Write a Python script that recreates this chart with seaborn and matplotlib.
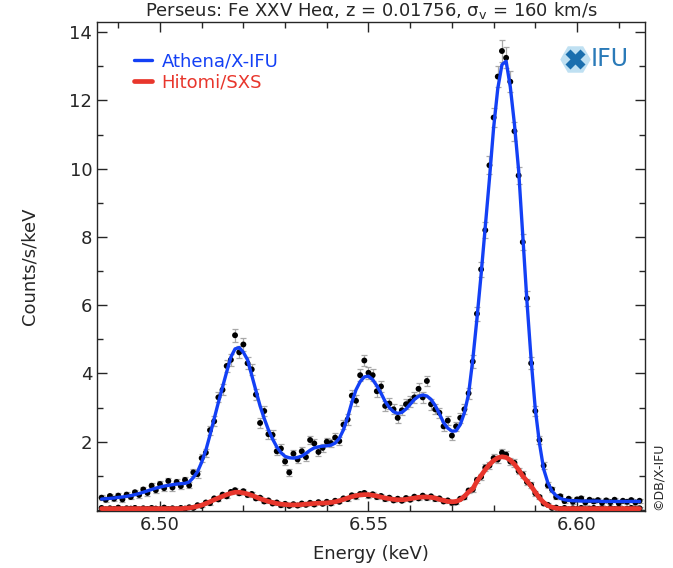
import numpy as np
import pandas as pd
import seaborn as sns
import matplotlib.pyplot as plt
from matplotlib.ticker import MultipleLocator

# 1 eV spectral bins (keV)
energy = [
    6.486, 6.487, 6.488, 6.489, 6.490, 6.491, 6.492, 6.493, 6.494, 6.495,
    6.496, 6.497, 6.498, 6.499, 6.500, 6.501, 6.502, 6.503, 6.504, 6.505,
    6.506, 6.507, 6.508, 6.509, 6.510, 6.511, 6.512, 6.513, 6.514, 6.515,
    6.516, 6.517, 6.518, 6.519, 6.520, 6.521, 6.522, 6.523, 6.524, 6.525,
    6.526, 6.527, 6.528, 6.529, 6.530, 6.531, 6.532, 6.533, 6.534, 6.535,
    6.536, 6.537, 6.538, 6.539, 6.540, 6.541, 6.542, 6.543, 6.544, 6.545,
    6.546, 6.547, 6.548, 6.549, 6.550, 6.551, 6.552, 6.553, 6.554, 6.555,
    6.556, 6.557, 6.558, 6.559, 6.560, 6.561, 6.562, 6.563, 6.564, 6.565,
    6.566, 6.567, 6.568, 6.569, 6.570, 6.571, 6.572, 6.573, 6.574, 6.575,
    6.576, 6.577, 6.578, 6.579, 6.580, 6.581, 6.582, 6.583, 6.584, 6.585,
    6.586, 6.587, 6.588, 6.589, 6.590, 6.591, 6.592, 6.593, 6.594, 6.595,
    6.596, 6.597, 6.598, 6.599, 6.600, 6.601, 6.602, 6.603, 6.604, 6.605,
    6.606, 6.607, 6.608, 6.609, 6.610, 6.611, 6.612, 6.613, 6.614, 6.615,
]

# Athena/X-IFU model and simulated counts
xifu_model = [
    0.32, 0.33, 0.34, 0.35, 0.37, 0.38, 0.40, 0.42, 0.45, 0.48,
    0.52, 0.56, 0.60, 0.64, 0.67, 0.70, 0.72, 0.74, 0.76, 0.77,
    0.78, 0.82, 0.95, 1.12, 1.40, 1.75, 2.20, 2.68, 3.15, 3.60,
    4.05, 4.48, 4.72, 4.76, 4.62, 4.40, 3.95, 3.50, 3.05, 2.68,
    2.35, 2.08, 1.85, 1.68, 1.57, 1.53, 1.52, 1.54, 1.58, 1.66,
    1.75, 1.82, 1.85, 1.87, 1.88, 1.90, 1.96, 2.10, 2.35, 2.72,
    3.15, 3.52, 3.76, 3.90, 3.92, 3.82, 3.64, 3.42, 3.18, 3.00,
    2.88, 2.83, 2.86, 2.96, 3.10, 3.24, 3.33, 3.37, 3.34, 3.24,
    3.06, 2.82, 2.56, 2.40, 2.31, 2.32, 2.50, 2.85, 3.40, 4.40,
    5.60, 6.90, 8.30, 9.70, 11.20, 12.35, 13.05, 13.15, 12.40, 11.30,
    9.95, 8.00, 6.10, 4.40, 2.95, 1.95, 1.20, 0.80, 0.55, 0.42,
    0.34, 0.30, 0.28, 0.27, 0.27, 0.26, 0.26, 0.26, 0.26, 0.26,
    0.25, 0.25, 0.25, 0.25, 0.25, 0.25, 0.25, 0.25, 0.25, 0.25,
]
xifu_counts = [
    0.36, 0.30, 0.41, 0.33, 0.42, 0.31, 0.45, 0.38, 0.52, 0.44,
    0.60, 0.50, 0.71, 0.58, 0.76, 0.64, 0.85, 0.66, 0.82, 0.70,
    0.88, 0.72, 1.10, 1.05, 1.52, 1.68, 2.34, 2.60, 3.30, 3.52,
    4.22, 4.40, 5.12, 4.62, 4.85, 4.30, 4.12, 3.38, 2.55, 2.90,
    2.22, 2.20, 1.72, 1.80, 1.42, 1.10, 1.65, 1.48, 1.72, 1.55,
    2.05, 1.95, 1.70, 1.82, 2.00, 1.96, 2.12, 2.02, 2.50, 2.65,
    3.35, 3.20, 3.95, 4.38, 4.02, 3.95, 3.48, 3.62, 3.05, 3.12,
    2.95, 2.70, 2.92, 3.10, 3.18, 3.30, 3.55, 3.30, 3.78, 3.10,
    2.95, 2.85, 2.45, 2.62, 2.18, 2.45, 2.70, 2.95, 3.42, 4.35,
    5.75, 7.05, 8.20, 10.10, 11.50, 12.70, 13.45, 13.25, 12.55, 11.10,
    9.80, 7.85, 6.20, 4.30, 2.90, 2.05, 1.30, 0.72, 0.60, 0.38,
    0.40, 0.26, 0.33, 0.24, 0.31, 0.34, 0.22, 0.30, 0.25, 0.29,
    0.21, 0.28, 0.23, 0.30, 0.20, 0.27, 0.24, 0.29, 0.22, 0.27,
]
xifu_err = [
    0.07, 0.07, 0.07, 0.07, 0.07, 0.07, 0.07, 0.07, 0.08, 0.08,
    0.08, 0.08, 0.08, 0.08, 0.09, 0.09, 0.09, 0.09, 0.09, 0.09,
    0.09, 0.09, 0.10, 0.10, 0.11, 0.12, 0.13, 0.14, 0.15, 0.16,
    0.17, 0.18, 0.19, 0.18, 0.18, 0.18, 0.17, 0.16, 0.15, 0.14,
    0.13, 0.13, 0.12, 0.12, 0.11, 0.11, 0.11, 0.11, 0.12, 0.12,
    0.12, 0.12, 0.12, 0.12, 0.12, 0.12, 0.13, 0.13, 0.14, 0.15,
    0.16, 0.16, 0.17, 0.17, 0.17, 0.17, 0.16, 0.16, 0.15, 0.15,
    0.15, 0.15, 0.15, 0.15, 0.15, 0.16, 0.16, 0.16, 0.16, 0.16,
    0.15, 0.15, 0.14, 0.14, 0.14, 0.14, 0.14, 0.15, 0.16, 0.18,
    0.20, 0.22, 0.24, 0.26, 0.28, 0.30, 0.31, 0.31, 0.30, 0.28,
    0.26, 0.24, 0.21, 0.18, 0.15, 0.12, 0.10, 0.09, 0.08, 0.07,
    0.07, 0.06, 0.06, 0.06, 0.06, 0.06, 0.06, 0.06, 0.06, 0.06,
    0.06, 0.06, 0.06, 0.06, 0.06, 0.06, 0.06, 0.06, 0.06, 0.06,
]

# Hitomi/SXS model and simulated counts
sxs_model = [
    0.04, 0.04, 0.04, 0.04, 0.04, 0.04, 0.04, 0.04, 0.04, 0.04,
    0.04, 0.04, 0.04, 0.04, 0.04, 0.04, 0.04, 0.04, 0.04, 0.04,
    0.05, 0.06, 0.08, 0.11, 0.14, 0.19, 0.24, 0.30, 0.35, 0.40,
    0.45, 0.49, 0.52, 0.52, 0.50, 0.47, 0.43, 0.38, 0.33, 0.29,
    0.25, 0.22, 0.19, 0.17, 0.16, 0.15, 0.15, 0.15, 0.16, 0.17,
    0.18, 0.19, 0.20, 0.20, 0.21, 0.22, 0.24, 0.27, 0.31, 0.35,
    0.39, 0.42, 0.44, 0.45, 0.45, 0.43, 0.41, 0.38, 0.35, 0.33,
    0.31, 0.30, 0.30, 0.31, 0.33, 0.35, 0.37, 0.38, 0.38, 0.37,
    0.35, 0.31, 0.28, 0.25, 0.24, 0.25, 0.30, 0.40, 0.53, 0.62,
    0.84, 1.01, 1.18, 1.33, 1.45, 1.53, 1.56, 1.54, 1.46, 1.34,
    1.18, 0.99, 0.85, 0.70, 0.52, 0.35, 0.22, 0.13, 0.08, 0.05,
    0.04, 0.04, 0.04, 0.04, 0.04, 0.04, 0.04, 0.04, 0.04, 0.04,
    0.04, 0.04, 0.04, 0.04, 0.04, 0.04, 0.04, 0.04, 0.04, 0.04,
]
sxs_counts = [
    0.06, 0.02, 0.05, 0.03, 0.07, 0.02, 0.05, 0.04, 0.06, 0.02,
    0.05, 0.03, 0.06, 0.04, 0.02, 0.07, 0.03, 0.05, 0.02, 0.06,
    0.04, 0.08, 0.06, 0.14, 0.12, 0.22, 0.20, 0.34, 0.31, 0.45,
    0.40, 0.53, 0.58, 0.49, 0.55, 0.44, 0.47, 0.34, 0.36, 0.25,
    0.28, 0.19, 0.22, 0.14, 0.18, 0.12, 0.17, 0.13, 0.19, 0.15,
    0.21, 0.16, 0.23, 0.18, 0.24, 0.19, 0.27, 0.24, 0.34, 0.32,
    0.43, 0.39, 0.47, 0.50, 0.42, 0.46, 0.38, 0.41, 0.32, 0.36,
    0.28, 0.33, 0.27, 0.35, 0.30, 0.39, 0.34, 0.42, 0.35, 0.40,
    0.32, 0.34, 0.25, 0.28, 0.21, 0.22, 0.33, 0.37, 0.57, 0.60,
    0.88, 0.97, 1.24, 1.30, 1.52, 1.48, 1.68, 1.62, 1.42, 1.38,
    1.14, 1.04, 0.82, 0.73, 0.49, 0.38, 0.19, 0.15, 0.06, 0.07,
    0.03, 0.06, 0.02, 0.05, 0.03, 0.06, 0.02, 0.04, 0.06, 0.03,
    0.05, 0.02, 0.06, 0.03, 0.05, 0.02, 0.04, 0.06, 0.03, 0.05,
]
sxs_err = [
    0.03, 0.03, 0.03, 0.03, 0.03, 0.03, 0.03, 0.03, 0.03, 0.03,
    0.03, 0.03, 0.03, 0.03, 0.03, 0.03, 0.03, 0.03, 0.03, 0.03,
    0.03, 0.03, 0.03, 0.04, 0.04, 0.04, 0.05, 0.05, 0.05, 0.06,
    0.06, 0.06, 0.06, 0.06, 0.06, 0.06, 0.06, 0.05, 0.05, 0.05,
    0.05, 0.04, 0.04, 0.04, 0.04, 0.04, 0.04, 0.04, 0.04, 0.04,
    0.04, 0.04, 0.04, 0.04, 0.04, 0.04, 0.05, 0.05, 0.05, 0.05,
    0.06, 0.06, 0.06, 0.06, 0.06, 0.06, 0.06, 0.05, 0.05, 0.05,
    0.05, 0.05, 0.05, 0.05, 0.05, 0.05, 0.05, 0.06, 0.05, 0.05,
    0.05, 0.05, 0.05, 0.05, 0.05, 0.05, 0.05, 0.06, 0.07, 0.07,
    0.08, 0.09, 0.10, 0.10, 0.11, 0.11, 0.11, 0.11, 0.11, 0.11,
    0.10, 0.09, 0.08, 0.08, 0.07, 0.06, 0.05, 0.04, 0.03, 0.03,
    0.03, 0.03, 0.03, 0.03, 0.03, 0.03, 0.03, 0.03, 0.03, 0.03,
    0.03, 0.03, 0.03, 0.03, 0.03, 0.03, 0.03, 0.03, 0.03, 0.03,
]

BLUE = '#1340f5'
RED = '#e8362c'

sns.set_style('ticks')
plt.rcParams['font.family'] = ['DejaVu Sans']

fig = plt.figure(figsize=(6.73, 5.68), dpi=100)
ax = fig.add_axes([97 / 673, 1 - 511 / 568, 548 / 673, 489 / 568])

df = pd.DataFrame({'energy': energy,
                   'xifu_model': xifu_model, 'xifu_counts': xifu_counts, 'xifu_err': xifu_err,
                   'sxs_model': sxs_model, 'sxs_counts': sxs_counts, 'sxs_err': sxs_err})

for c, e in [('xifu_counts', 'xifu_err'), ('sxs_counts', 'sxs_err')]:
    ax.errorbar(df.energy, df[c], yerr=df[e], fmt='none', ecolor='#a8a8a8',
                elinewidth=0.9, capsize=2, capthick=0.9, zorder=2)
    sns.scatterplot(data=df, x='energy', y=c, ax=ax, color='black', s=18,
                    edgecolor='none', zorder=3, legend=False)

sns.lineplot(data=df, x='energy', y='xifu_model', ax=ax, color=BLUE, lw=2.4,
             label='Athena/X-IFU', zorder=4)
sns.lineplot(data=df, x='energy', y='sxs_model', ax=ax, color=RED, lw=3.4,
             label='Hitomi/SXS', zorder=4)

ax.set_xlim(6.4849, 6.6163)
ax.set_ylim(-0.03, 14.3)
ax.set_xticks([6.50, 6.55, 6.60])
ax.set_xticklabels(['6.50', '6.55', '6.60'])
ax.set_yticks([2, 4, 6, 8, 10, 12, 14])
ax.xaxis.set_minor_locator(MultipleLocator(0.01))
ax.yaxis.set_minor_locator(MultipleLocator(1))
ax.tick_params(which='both', direction='in', top=True, right=True, labelsize=13, width=1)
ax.tick_params(which='major', length=7)
ax.tick_params(which='minor', length=4)
for s in ax.spines.values():
    s.set_linewidth(1.0)

ax.set_xlabel('Energy (keV)', fontsize=13, labelpad=8)
ax.set_ylabel('Counts/s/keV', fontsize=13, labelpad=22)
ax.set_title('Perseus: Fe XXV Heα, z = 0.01756, σ$_\\mathrm{v}$ = 160 km/s',
             fontsize=13, pad=4)

leg = ax.legend(loc='upper left', frameon=False, fontsize=13, handlelength=1.0,
                handletextpad=0.5, labelspacing=0.15, borderaxespad=0.0,
                bbox_to_anchor=(0.055, 0.952))
for txt, col in zip(leg.get_texts(), [BLUE, RED]):
    txt.set_color(col)

# IFU logo
ax.plot([0.872], [0.925], transform=ax.transAxes, marker='H', ms=22,
        color='#bfe0f2', mec='none', clip_on=False, zorder=5)
ax.plot([0.872], [0.925], transform=ax.transAxes, marker='X', ms=14,
        color='#1b6fae', mec='none', clip_on=False, zorder=6)
ax.text(0.9, 0.925, 'IFU', transform=ax.transAxes, fontsize=17,
        color='#2a7ab8', va='center', ha='left')

fig.text(658 / 673, 1 - 476 / 568, '©DB/X-IFU', rotation=90, fontsize=9,
         ha='center', va='center')

fig.savefig('out.png', dpi=100)
